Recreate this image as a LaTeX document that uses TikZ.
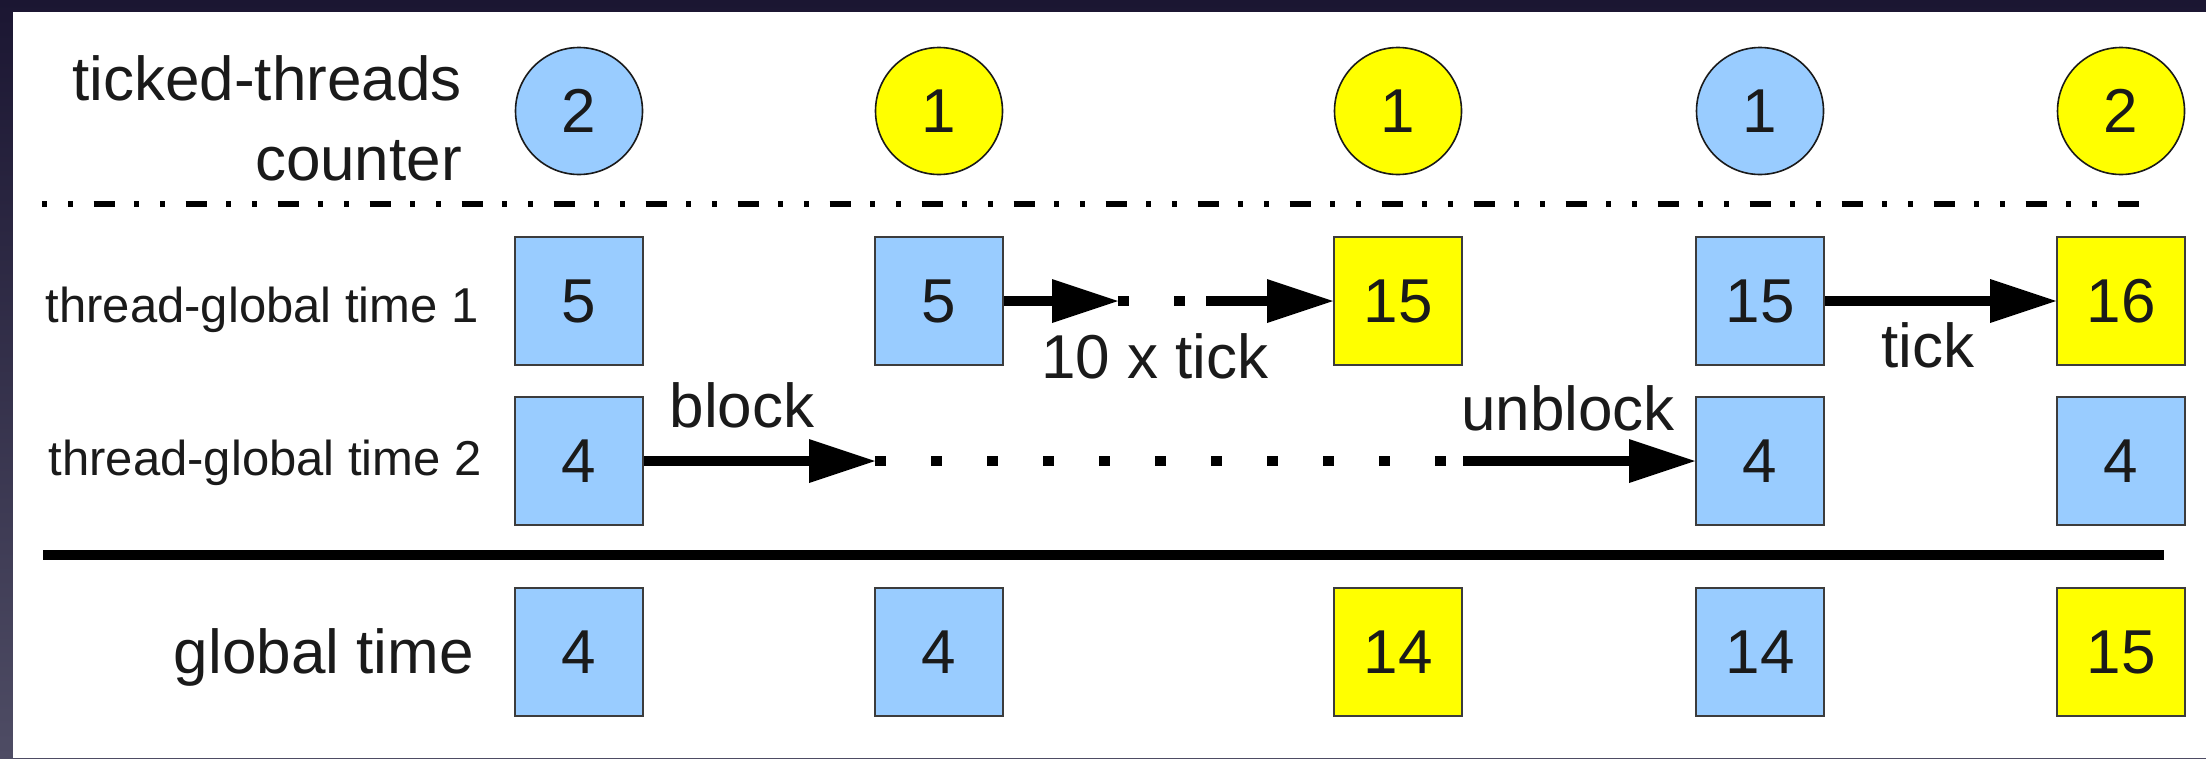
\documentclass[tikz,border=0pt]{standalone}
\usepackage{fontspec}
\setmainfont{Liberation Sans}
\usetikzlibrary{arrows.meta}

\definecolor{cellblue}{HTML}{99CCFF}
\definecolor{cellyellow}{HTML}{FFFF00}
\definecolor{ink}{HTML}{1A1A1A}
\definecolor{frameTop}{HTML}{1B1632}
\definecolor{frameBot}{HTML}{4E4C64}
\definecolor{edgegray}{HTML}{3C3C3C}

\begin{document}
\begin{tikzpicture}[x=1pt,y=-1pt,
  big/.style={font=\fontsize{62}{74}\selectfont, text=ink, inner sep=0pt},
  small/.style={font=\fontsize{49}{58}\selectfont, text=ink, inner sep=0pt},
  cell/.style={big, rectangle, draw=edgegray, line width=2pt,
    minimum width=128pt, minimum height=128pt},
  bcell/.style={cell, fill=cellblue},
  ycell/.style={cell, fill=cellyellow},
  counter/.style={big, circle, draw=ink, line width=1.6pt, minimum size=127pt},
  bcount/.style={counter, fill=cellblue},
  ycount/.style={counter, fill=cellyellow},
  flow/.style={line width=10pt,
    -{Triangle[length=66pt, width=44pt, line width=0pt]}},
  dotrun/.style={line width=10pt, dash pattern=on 11pt off 45pt},
]
\useasboundingbox (0,0) rectangle (2206,758);

% dark frame and white panel
\fill[top color=frameTop, bottom color=frameBot] (0,0) rectangle (2206,758);
\fill[white] (13,12) rectangle (2206,758);

% row labels
\node[big, anchor=base east] (ttc1) at (462,100) {ticked-threads};
\node[big, anchor=base east] (ttc2) at (462,180) {counter};
\node[small, anchor=base east] (lab1) at (479,322) {thread-global time 1};
\node[small, anchor=base east] (lab2) at (482,475) {thread-global time 2};
\node[big, anchor=base east] (labg) at (474,673) {global time};

% ticked-threads counter
\node[bcount] (k1) at (579,111) {2};
\node[ycount] (k2) at (939,111) {1};
\node[ycount] (k3) at (1398,111) {1};
\node[bcount] (k4) at (1760,111) {1};
\node[ycount] (k5) at (2121,111) {2};

% dash-dot separator
\coordinate (sepL) at (42,204);
\coordinate (sepR) at (2155,204);
\draw[line width=5.5pt,
  dash pattern=on 5pt off 21pt on 5pt off 20.5pt on 21pt off 19.5pt]
  (sepL) -- (sepR);

% thread-global time 1
\node[bcell] (a1) at (579,301) {5};
\node[bcell] (a2) at (939,301) {5};
\node[ycell] (a3) at (1398,301) {15};
\node[bcell] (a4) at (1760,301) {15};
\node[ycell] (a5) at (2121,301) {16};

% thread-global time 2
\node[bcell] (b1) at (579,461) {4};
\node[bcell] (b4) at (1760,461) {4};
\node[bcell] (b5) at (2121,461) {4};

% solid separator
\coordinate (solL) at (43,555);
\coordinate (solR) at (2164,555);
\draw[line width=10pt] (solL) -- (solR);

% global time
\node[bcell] (g1) at (579,652) {4};
\node[bcell] (g2) at (939,652) {4};
\node[ycell] (g3) at (1398,652) {14};
\node[bcell] (g4) at (1760,652) {14};
\node[ycell] (g5) at (2121,652) {15};

% ten ticks of thread 1
\coordinate (tenA) at (1118,301);
\coordinate (tenB) at (1206,301);
\draw[flow] (a2.east) -- (tenA);
\draw[dotrun] (tenA) -- (tenB);
\draw[flow] (tenB) -- (a3.west);
\node[big, anchor=base] (lten) at (1155,378) {10 x tick};

% single tick of thread 1
\draw[flow] (a4.east) -- (a5.west);
\node[big, anchor=base] (ltick) at (1928,367) {tick};

% thread 2 blocked, then unblocked
\coordinate (blkA) at (875,461);
\coordinate (blkB) at (1463,461);
\draw[flow] (b1.east) -- (blkA);
\draw[dotrun] (blkA) -- (blkB);
\draw[flow] (blkB) -- (b4.west);
\node[big, anchor=base] (lblock) at (742,427) {block};
\node[big, anchor=base] (lunblock) at (1568,430) {unblock};

\end{tikzpicture}
\end{document}
